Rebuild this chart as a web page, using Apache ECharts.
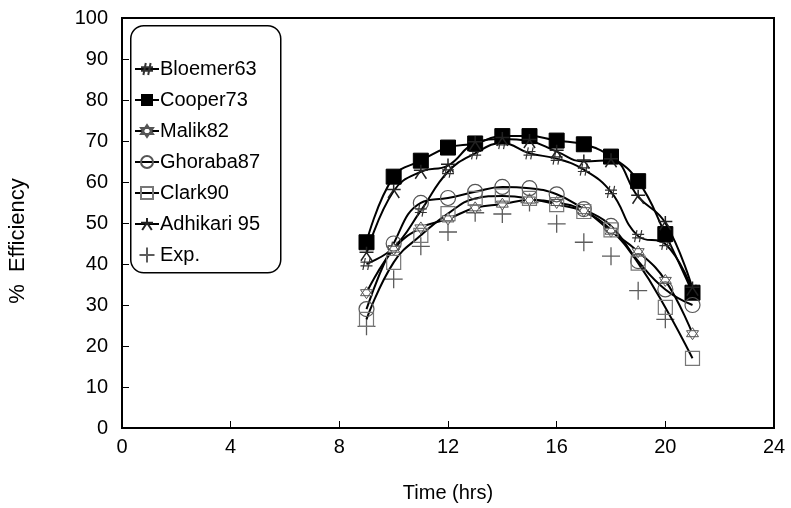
<!DOCTYPE html>
<html><head><meta charset="utf-8">
<script src="https://cdn.jsdelivr.net/npm/echarts@6/dist/echarts.min.js"></script>
<style>html,body{margin:0;padding:0;background:#fff}#c{width:791px;height:508px}</style>
</head><body><div id="c"></div>
<script>
var hours = [9,10,11,12,13,14,15,16,17,18,19,20,21];
var bloemer63 = [40,44,53,62.5,67,69.5,67,65.7,63,57.6,46.8,44.9,33.5];
var cooper73 = [45.3,61.3,65.2,68.4,69.4,71.2,71.2,70.1,69.2,66.2,60.2,47.3,33];
var malik82 = [33,43.6,48.8,51,53.7,54.6,55.6,55,53,48,43,36,23];
var ghoraba87 = [29,45,54.9,56.1,57.6,58.8,58.5,57,53.4,49.3,40.7,33.8,30];
var clark90 = [26.5,40.4,47,52.3,56,56.6,56,54.5,52.8,48.3,40.2,29.4,17];
var adhikari95 = [42.5,57.8,62.5,64,69.5,70.5,70,67.4,65,65.3,56.4,50,34];
var expHours = [9,10,11,12,13,14,15,16,17,18,19,20];
var expData = [24.8,36.3,44.3,47.8,52.5,52.2,55,49.8,45.3,41.9,33.5,26.5];
var seriesNames = ['Bloemer63','Cooper73','Malik82','Ghoraba87','Clark90','Adhikari 95','Exp.'];
var xTitle = 'Time (hrs)';
var yTitle = '%  Efficiency';

function pairs(xs, ys){ return xs.map(function(x,i){return [x, ys[i]];}); }

var SYM_HASH = 'path://M4,0 L2,10 M8,0 L6,10 M0,3.5 L10,3.5 M0,6.5 L10,6.5';
var SYM_STAR6 = 'path://M5,0 L9.33,7.5 L0.67,7.5 Z M5,10 L0.67,2.5 L9.33,2.5 Z';
var SYM_AST = 'path://M0,4 L10,4 M5,0 L5,4 M5,4 L1,10 M5,4 L9,10';
var SYM_PLUS = 'path://M5,0 L5,10 M0,5 L10,5';

function lineSeries(name, ys, symbol, size, item){
  return {
    name: name, type: 'line', data: pairs(hours, ys), smooth: 0.45,
    symbol: symbol, symbolSize: size, showSymbol: true,
    lineStyle: {color: '#000', width: 2},
    itemStyle: item,
    emphasis: {disabled: true}, animation: false
  };
}

var chart = echarts.init(document.getElementById('c'));
var font = 'Liberation Sans, Arial, sans-serif';
chart.setOption({
  animation: false,
  backgroundColor: '#fff',
  grid: {left: 122, right: 17, top: 18, bottom: 80, show: true, borderColor: '#000', borderWidth: 2, backgroundColor: 'transparent'},
  xAxis: {
    type: 'value', min: 0, max: 24, interval: 4,
    name: xTitle, nameLocation: 'middle', nameGap: 55,
    nameTextStyle: {fontFamily: font, fontSize: 20, color: '#000'},
    axisLine: {lineStyle: {color: '#000', width: 2}},
    axisTick: {inside: true, length: 7, lineStyle: {color: '#000', width: 1}},
    axisLabel: {fontFamily: font, fontSize: 20, color: '#000', margin: 9},
    splitLine: {show: false}
  },
  yAxis: {
    type: 'value', min: 0, max: 100, interval: 10,
    axisLine: {lineStyle: {color: '#000', width: 2}},
    axisTick: {inside: true, length: 7, lineStyle: {color: '#000', width: 1}},
    axisLabel: {fontFamily: font, fontSize: 20, color: '#000', margin: 14},
    splitLine: {show: false}
  },
  graphic: [{
    type: 'rect', left: 130, top: 25, z: 5,
    shape: {width: 150, height: 247, r: 13},
    style: {fill: '#fff', stroke: '#000', lineWidth: 1.5}
  }, {
    type: 'text', x: 18, y: 241, rotation: Math.PI / 2, z: 5,
    style: {text: yTitle, fontFamily: font, fontSize: 22, fill: '#000', align: 'center', verticalAlign: 'middle'}
  }],
  legend: {
    orient: 'vertical', left: 129, top: 54, itemGap: 11, itemWidth: 24, itemHeight: 15,
    z: 10, selectedMode: false,
    textStyle: {fontFamily: font, fontSize: 20, color: '#000', padding: [0,0,0,-4]},
    data: seriesNames
  },
  series: [
    lineSeries(seriesNames[0], bloemer63, SYM_HASH, 12, {color: '#fff', borderColor: '#333', borderWidth: 1.2}),
    lineSeries(seriesNames[1], cooper73, 'rect', 15, {color: '#000', borderColor: '#000'}),
    lineSeries(seriesNames[2], malik82, SYM_STAR6, 12, {color: '#fff', borderColor: '#555', borderWidth: 1}),
    lineSeries(seriesNames[3], ghoraba87, 'circle', 15, {color: 'rgba(255,255,255,0)', borderColor: '#555', borderWidth: 1.2}),
    lineSeries(seriesNames[4], clark90, 'rect', 14, {color: 'rgba(255,255,255,0)', borderColor: '#777', borderWidth: 1.2}),
    lineSeries(seriesNames[5], adhikari95, SYM_AST, 14, {color: '#fff', borderColor: '#222', borderWidth: 1.5}),
    {
      name: seriesNames[6], type: 'scatter', data: pairs(expHours, expData),
      symbol: SYM_PLUS, symbolSize: 18,
      itemStyle: {color: '#fff', borderColor: '#333', borderWidth: 1.3},
      emphasis: {disabled: true}, animation: false
    }
  ]
});
</script></body></html>
